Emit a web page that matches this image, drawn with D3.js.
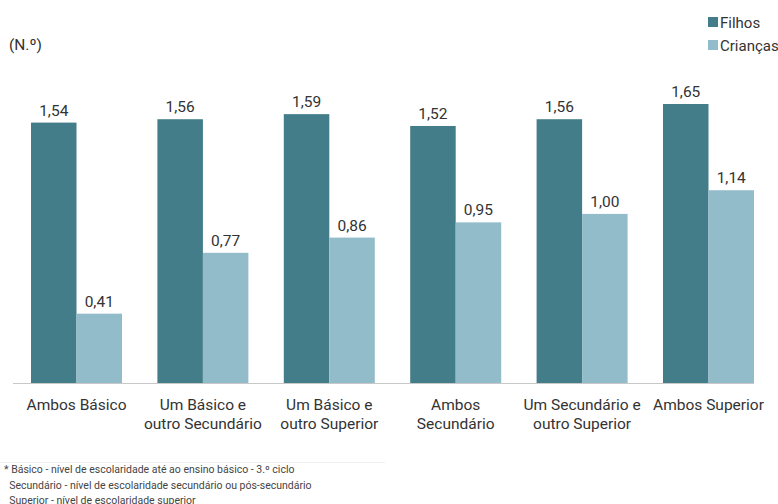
<!DOCTYPE html>
<html>
<head>
<meta charset="utf-8">
<script src="https://cdn.jsdelivr.net/npm/d3@7"></script>
<style>
  body { margin: 0; background: #fff; }
  text { font-family: Roboto, "Noto Sans", sans-serif; }
</style>
</head>
<body>
<div id="chart"></div>
<script>
var categories = [
  ["Ambos Básico"],
  ["Um Básico e", "outro Secundário"],
  ["Um Básico e", "outro Superior"],
  ["Ambos", "Secundário"],
  ["Um Secundário e", "outro Superior"],
  ["Ambos Superior"]
];
var series = ["Filhos", "Crianças"];
var filhos = [1.54, 1.56, 1.59, 1.52, 1.56, 1.65];
var criancas = [0.41, 0.77, 0.86, 0.95, 1.00, 1.14];
var footnotes = [
  "* Básico - nível de escolaridade até ao ensino básico - 3.º ciclo",
  "  Secundário - nível de escolaridade secundário ou pós-secundário",
  "  Superior - nível de escolaridade superior"
];

var width = 778, height = 504;
var colors = ["#437d89", "#93bccb"];

var svg = d3.select("#chart").append("svg")
  .attr("width", width)
  .attr("height", height);

var data = categories.map(function(c, i) {
  return { key: i, label: c, values: [filhos[i], criancas[i]] };
});

var x = d3.scaleBand()
  .domain(d3.range(categories.length))
  .range([31, 754])
  .paddingInner(0.28);

var xs = d3.scaleBand()
  .domain([0, 1])
  .range([0, x.bandwidth()]);

var y = d3.scaleLinear()
  .domain([0, 1.65])
  .range([383, 104]);

var fmt = function(v) { return d3.format(".2f")(v).replace(".", ","); };

var groups = svg.selectAll("g.grp")
  .data(data)
  .enter().append("g")
  .attr("class", "grp")
  .attr("transform", function(d) { return "translate(" + x(d.key) + ",0)"; });

groups.selectAll("rect")
  .data(function(d) { return d.values; })
  .enter().append("rect")
  .attr("x", function(d, i) { return xs(i); })
  .attr("y", function(d) { return y(d); })
  .attr("width", xs.bandwidth())
  .attr("height", function(d) { return y(0) - y(d); })
  .attr("fill", function(d, i) { return colors[i]; });

groups.selectAll("text.val")
  .data(function(d) { return d.values; })
  .enter().append("text")
  .attr("class", "val")
  .attr("x", function(d, i) { return xs(i) + xs.bandwidth() / 2; })
  .attr("y", function(d) { return y(d) - 7; })
  .attr("text-anchor", "middle")
  .attr("font-size", 15.5)
  .attr("fill", "#333")
  .text(fmt);

// axis line
svg.append("line")
  .attr("x1", 13).attr("x2", 754)
  .attr("y1", y(0) + 0.5).attr("y2", y(0) + 0.5)
  .attr("stroke", "#c8c8c8")
  .attr("stroke-width", 1);

// category labels
groups.append("text")
  .attr("text-anchor", "middle")
  .attr("font-size", 15.5)
  .attr("fill", "#333")
  .selectAll("tspan")
  .data(function(d) { return d.label; })
  .enter().append("tspan")
  .attr("x", x.bandwidth() / 2)
  .attr("y", function(d, i) { return 410 + i * 19; })
  .text(function(d) { return d; });

// unit
svg.append("text")
  .attr("x", 9).attr("y", 50)
  .attr("font-size", 15.5)
  .attr("fill", "#333")
  .text("(N.º)");

// legend
var legend = svg.selectAll("g.leg")
  .data(series)
  .enter().append("g")
  .attr("class", "leg")
  .attr("transform", function(d, i) { return "translate(708," + (17 + i * 23) + ")"; });

legend.append("rect")
  .attr("width", 10).attr("height", 10)
  .attr("fill", function(d, i) { return colors[i]; });

legend.append("text")
  .attr("x", 12).attr("y", 10.5)
  .attr("font-size", 15)
  .attr("fill", "#333")
  .text(function(d) { return d; });

// footnotes
svg.append("line")
  .attr("x1", 0).attr("x2", 385)
  .attr("y1", 462.5).attr("y2", 462.5)
  .attr("stroke", "#f0f0f0");

svg.selectAll("text.note")
  .data(footnotes)
  .enter().append("text")
  .attr("class", "note")
  .attr("x", 4)
  .attr("y", function(d, i) { return 473 + i * 15.5; })
  .attr("font-size", 10.5)
  .attr("fill", "#444")
  .attr("xml:space", "preserve")
  .style("white-space", "pre")
  .text(function(d) { return d; });
</script>
</body>
</html>
